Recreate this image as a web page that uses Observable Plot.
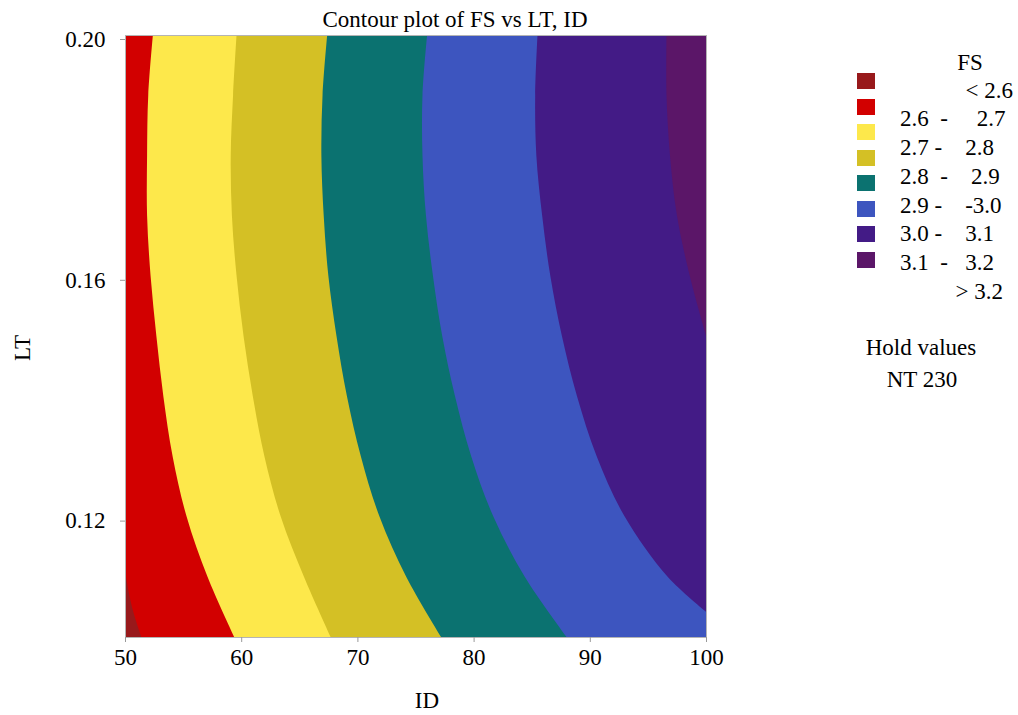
<!DOCTYPE html>
<html>
<head>
<meta charset="utf-8">
<script src="https://cdn.jsdelivr.net/npm/d3@7"></script>
<script src="https://cdn.jsdelivr.net/npm/@observablehq/plot@0.6"></script>
<style>
  body { margin: 0; background: #fff; }
  #wrap { position: relative; width: 1018px; height: 715px; overflow: hidden;
          font-family: "Liberation Serif", "Times New Roman", serif; color: #000; }
  #wrap svg { position: absolute; left: 0; top: 0; }
  .t { position: absolute; white-space: pre; font-family: "Liberation Serif", "Times New Roman", serif;
       font-size: 23px; line-height: 23px; }
  .sw { position: absolute; width: 18px; height: 16px; }
</style>
</head>
<body>
<div id="wrap"></div>
<script>
// ---- Data ----
const TITLE = "Contour plot of FS vs LT, ID";
const X_LABEL = "ID";
const Y_LABEL = "LT";
const ID_DOMAIN = [50, 100];
const LT_DOMAIN = [0.10, 0.20];
const X_TICKS = [50, 60, 70, 80, 90, 100];
const Y_TICKS = [0.12, 0.16, 0.20];

// contour boundaries: [LT, ID] pairs along each FS level
const FS_2_6 = [[0.100, 51.4], [0.105, 50.6], [0.111, 50.0]];
const FS_2_7 = [[0.10, 59.4], [0.11, 57.1], [0.12, 55.3], [0.13, 54.1], [0.14, 53.3], [0.15, 52.7], [0.16, 52.2], [0.17, 51.9], [0.18, 51.9], [0.19, 52.0], [0.20, 52.4]];
const FS_2_8 = [[0.10, 67.7], [0.11, 65.4], [0.12, 63.4], [0.13, 62.0], [0.14, 61.0], [0.15, 60.2], [0.16, 59.6], [0.17, 59.2], [0.18, 59.1], [0.19, 59.3], [0.20, 59.6]];
const FS_2_9 = [[0.10, 77.2], [0.11, 74.2], [0.12, 71.9], [0.13, 70.3], [0.14, 69.1], [0.15, 68.2], [0.16, 67.5], [0.17, 67.1], [0.18, 66.9], [0.19, 67.0], [0.20, 67.4]];
const FS_3_0 = [[0.10, 88.0], [0.11, 84.4], [0.12, 81.7], [0.13, 79.8], [0.14, 78.4], [0.15, 77.3], [0.16, 76.5], [0.17, 75.9], [0.18, 75.6], [0.19, 75.6], [0.20, 76.0]];
const FS_3_1 = [[0.1042, 100], [0.11, 96.7], [0.12, 93.0], [0.13, 90.6], [0.14, 88.9], [0.15, 87.6], [0.16, 86.6], [0.17, 85.9], [0.18, 85.4], [0.19, 85.3], [0.20, 85.5]];
const FS_3_2 = [[0.150, 100], [0.16, 98.6], [0.17, 97.5], [0.18, 96.9], [0.19, 96.6], [0.20, 96.6]];

// legend
const LEGEND_TITLE = "FS";
const LEGEND_LABELS = ["< 2.6", "2.6  -     2.7", "2.7 -    2.8", "2.8  -    2.9", "2.9 -    -3.0", "3.0 -    3.1", "3.1  -   3.2", "> 3.2"];
const BAND_COLORS = ["#98191b", "#d20000", "#fde84b", "#d4c025", "#0b7270", "#3d55bf", "#431b86", "#5b1668"];
const HOLD_TITLE = "Hold values";
const HOLD_VALUES = ["NT 230"];

// ---- Chart ----
const rows = (pairs) => pairs.map(([lt, id]) => ({lt, id}));
const upperBands = [FS_2_7, FS_2_8, FS_2_9, FS_3_0, FS_3_1, FS_3_2];

const marks = [
  // base band 2.6 - 2.7 covering the whole domain
  Plot.rect([{x1: ID_DOMAIN[0], x2: ID_DOMAIN[1], y1: LT_DOMAIN[0], y2: LT_DOMAIN[1]}],
    {x1: "x1", x2: "x2", y1: "y1", y2: "y2", fill: BAND_COLORS[1]}),
  // < 2.6 band, to the left of the 2.6 contour
  Plot.areaX(rows(FS_2_6), {y: "lt", x1: () => ID_DOMAIN[0], x2: "id", fill: BAND_COLORS[0], curve: "monotone-y"}),
  // each higher band: from its lower contour to the right edge
  ...upperBands.map((b, i) =>
    Plot.areaX(rows(b), {y: "lt", x1: "id", x2: () => ID_DOMAIN[1], fill: BAND_COLORS[i + 2], curve: "catmull-rom"})),
  Plot.frame({stroke: "#b4b4b4"}),
  Plot.axisX({ticks: X_TICKS, tickSize: 5, tickPadding: 6, stroke: "#999", fill: "#000", label: null}),
  Plot.axisY({ticks: Y_TICKS, tickFormat: d3.format(".2f"), tickSize: 5, tickPadding: 15, stroke: "#999", fill: "#000", label: null, dy: 4})
];

const chart = Plot.plot({
  width: 1018,
  height: 715,
  marginLeft: 125,
  marginRight: 312,
  marginTop: 35,
  marginBottom: 78,
  style: {fontFamily: "'Liberation Serif', 'Times New Roman', serif", fontSize: "23px", color: "#000", background: "#fff", overflow: "visible"},
  x: {domain: ID_DOMAIN},
  y: {domain: LT_DOMAIN},
  marks
});

const wrap = document.getElementById("wrap");
wrap.appendChild(chart);

// text helper: baseline-positioned HTML text
const ASC = 19.3; // baseline offset from top of a 23px line box
function addText(str, x, baseline, align) {
  const d = document.createElement("div");
  d.className = "t";
  d.textContent = str;
  d.style.top = (baseline - ASC) + "px";
  if (align === "middle") { d.style.left = x + "px"; d.style.transform = "translateX(-50%)"; }
  else if (align === "end") { d.style.right = (1018 - x) + "px"; }
  else { d.style.left = x + "px"; }
  wrap.appendChild(d);
  return d;
}

addText(TITLE, 455, 27, "middle");
addText(X_LABEL, 427, 708, "middle");
const yl = addText(Y_LABEL, 0, 0, "start");
yl.style.left = "22px"; yl.style.top = "348px";
yl.style.transform = "translate(-50%, -50%) rotate(-90deg)";

// legend
addText(LEGEND_TITLE, 970, 70, "middle");
BAND_COLORS.forEach((c, i) => {
  const s = document.createElement("div");
  s.className = "sw";
  s.style.left = "857px";
  s.style.top = (73 + 25.5 * i) + "px";
  s.style.background = c;
  wrap.appendChild(s);
});
LEGEND_LABELS.forEach((lab, i) => {
  const base = 98 + 28.7 * i;
  if (lab.startsWith("<")) addText(lab, 1013, base, "end");
  else if (lab.startsWith(">")) addText(lab, 1003, base, "end");
  else addText(lab, 900, base, "start");
});
addText(HOLD_TITLE, 921, 355, "middle");
HOLD_VALUES.forEach((v, i) => addText(v, 922, 387 + 32 * i, "middle"));
</script>
</body>
</html>
